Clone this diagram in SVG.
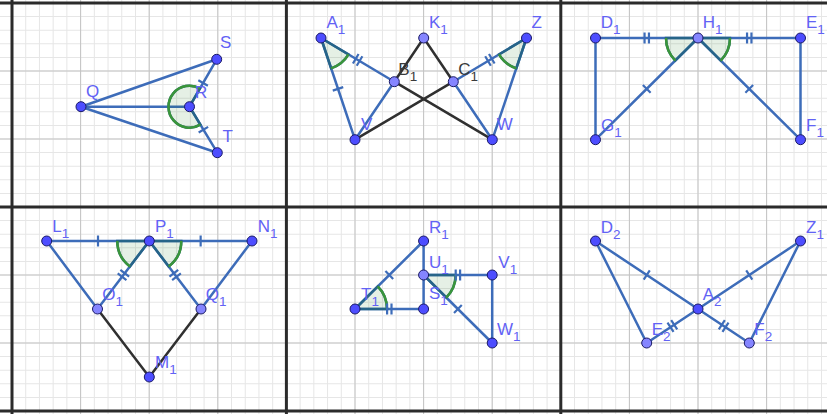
<svg xmlns="http://www.w3.org/2000/svg" xmlns:xlink="http://www.w3.org/1999/xlink" width="827" height="414" viewBox="0 0 827 414">
<style>
.seg{stroke:#3d6cb9;stroke-width:2.5;stroke-linecap:round;fill:none}
.blk{stroke:#303030;stroke-width:2.5;stroke-linecap:round;fill:none}
.tk{stroke:#3d6cb9;stroke-width:2.2;fill:none}
.sec{fill:rgba(0,110,0,0.1);stroke:#266488;stroke-width:2.5}
.arc{fill:none;stroke:#3a953a;stroke-width:2.5}
.pt{fill:#4d4dff;stroke:#1a1a66;stroke-width:1}
.pl{fill:#8585ff;stroke:#1a1a66;stroke-width:1}
text{font-family:"Liberation Sans",Arial,sans-serif;font-size:17px;fill:#6262f5}
text.dk{fill:#3a3a3a}
tspan{font-size:13.5px}
</style>
<defs>
<line id="t1" x1="0" y1="-5.5" x2="0" y2="5.5"/>
<path id="t2" d="M-2.2,-5.5V5.5M2.2,-5.5V5.5"/>
</defs>
<rect width="827" height="414" fill="#ffffff"/>
<g id="grid">
<line x1="11.5" y1="207" x2="827" y2="207" stroke="#e6e6e6" stroke-width="414" stroke-dasharray="1 12.72"/>
<line x1="413.5" y1="2.5" x2="413.5" y2="414" stroke="#e6e6e6" stroke-width="827" stroke-dasharray="1 12.6"/>
<line x1="11.5" y1="207" x2="827" y2="207" stroke="#c4c4c4" stroke-width="414" stroke-dasharray="1 67.6"/>
<line x1="413.5" y1="2.5" x2="413.5" y2="414" stroke="#c4c4c4" stroke-width="827" stroke-dasharray="1 67"/>
<g stroke="#2b2b2b" stroke-width="3">
<line x1="12" y1="0" x2="12" y2="414"/>
<line x1="286.4" y1="0" x2="286.4" y2="414"/>
<line x1="560.8" y1="0" x2="560.8" y2="414"/>
<line x1="0" y1="3" x2="827" y2="3"/>
<line x1="0" y1="207" x2="827" y2="207"/>
<line x1="0" y1="411" x2="827" y2="411"/>
</g>
</g>
<g id="connectors">
<line class="seg" x1="81" y1="106.7" x2="216.7" y2="59.3"/>
<line class="seg" x1="81" y1="106.7" x2="217.3" y2="152.7"/>
<line class="seg" x1="81" y1="106.7" x2="189.5" y2="106.7"/>
<line class="seg" x1="189.5" y1="106.7" x2="216.7" y2="59.3"/>
<line class="seg" x1="189.5" y1="106.7" x2="217.3" y2="152.7"/>
<line class="blk" x1="423.7" y1="38" x2="394.3" y2="81.7"/>
<line class="blk" x1="423.7" y1="38" x2="453.3" y2="81.7"/>
<line class="blk" x1="394.3" y1="81.7" x2="492.3" y2="139.7"/>
<line class="blk" x1="453.3" y1="81.7" x2="355" y2="139.7"/>
<line class="seg" x1="321" y1="38" x2="394.3" y2="81.7"/>
<line class="seg" x1="321" y1="38" x2="355" y2="139.7"/>
<line class="seg" x1="394.3" y1="81.7" x2="355" y2="139.7"/>
<line class="seg" x1="526.5" y1="38" x2="453.3" y2="81.7"/>
<line class="seg" x1="526.5" y1="38" x2="492.3" y2="139.7"/>
<line class="seg" x1="453.3" y1="81.7" x2="492.3" y2="139.7"/>
<line class="seg" x1="595.5" y1="38" x2="800.5" y2="38"/>
<line class="seg" x1="595.5" y1="38" x2="595.5" y2="139.7"/>
<line class="seg" x1="800.5" y1="38" x2="800.5" y2="139.7"/>
<line class="seg" x1="698" y1="38" x2="595.5" y2="139.7"/>
<line class="seg" x1="698" y1="38" x2="800.5" y2="139.7"/>
<line class="seg" x1="46.7" y1="241" x2="252" y2="241"/>
<line class="seg" x1="46.7" y1="241" x2="97.5" y2="309"/>
<line class="seg" x1="149.3" y1="241" x2="97.5" y2="309"/>
<line class="seg" x1="149.3" y1="241" x2="201" y2="309"/>
<line class="seg" x1="252" y1="241" x2="201" y2="309"/>
<line class="blk" x1="97.5" y1="309" x2="149.3" y2="377"/>
<line class="blk" x1="201" y1="309" x2="149.3" y2="377"/>
<line class="seg" x1="355" y1="309" x2="423.6" y2="241"/>
<line class="seg" x1="423.6" y1="241" x2="423.6" y2="309"/>
<line class="seg" x1="355" y1="309" x2="423.6" y2="309"/>
<line class="seg" x1="423.6" y1="275" x2="492.2" y2="275"/>
<line class="seg" x1="492.2" y1="275" x2="492.2" y2="343"/>
<line class="seg" x1="423.6" y1="275" x2="492.2" y2="343"/>
<line class="seg" x1="595.5" y1="241" x2="698" y2="309"/>
<line class="seg" x1="800.5" y1="241" x2="698" y2="309"/>
<line class="seg" x1="595.5" y1="241" x2="646.7" y2="343"/>
<line class="seg" x1="646.7" y1="343" x2="698" y2="309"/>
<line class="seg" x1="698" y1="309" x2="749.3" y2="343"/>
<line class="seg" x1="749.3" y1="343" x2="800.5" y2="241"/>
</g>
<g id="angles">
<path class="sec" d="M189.5,106.7 L200.35,124.68 A21,21 0 1 1 199.95,88.48 Z"/>
<path class="arc" d="M200.35,124.68 A21,21 0 1 1 199.95,88.48"/>
<path class="sec" d="M321,38 L348.49,54.38 A32,32 0 0 1 331.14,68.34 Z"/>
<path class="arc" d="M348.49,54.38 A32,32 0 0 1 331.14,68.34"/>
<path class="sec" d="M526.5,38 L516.29,68.34 A32,32 0 0 1 499.01,54.38 Z"/>
<path class="arc" d="M516.29,68.34 A32,32 0 0 1 499.01,54.38"/>
<path class="sec" d="M698,38 L675.29,60.55 A32,32 0 0 1 666,38 Z"/>
<path class="arc" d="M675.29,60.55 A32,32 0 0 1 666,38"/>
<path class="sec" d="M698,38 L730,38 A32,32 0 0 1 720.71,60.55 Z"/>
<path class="arc" d="M730,38 A32,32 0 0 1 720.71,60.55"/>
<path class="sec" d="M149.3,241 L129.91,266.46 A32,32 0 0 1 117.3,241 Z"/>
<path class="arc" d="M129.91,266.46 A32,32 0 0 1 117.3,241"/>
<path class="sec" d="M149.3,241 L181.3,241 A32,32 0 0 1 168.69,266.46 Z"/>
<path class="arc" d="M181.3,241 A32,32 0 0 1 168.69,266.46"/>
<path class="sec" d="M355,309 L377.73,286.47 A32,32 0 0 1 387,309 Z"/>
<path class="arc" d="M377.73,286.47 A32,32 0 0 1 387,309"/>
<path class="sec" d="M423.6,275 L455.6,275 A32,32 0 0 1 446.33,297.53 Z"/>
<path class="arc" d="M455.6,275 A32,32 0 0 1 446.33,297.53"/>
</g>
<g id="ticks" class="tk">
<use xlink:href="#t1" transform="translate(203.1,83) rotate(-60.15)"/>
<use xlink:href="#t1" transform="translate(203.4,129.7) rotate(58.9)"/>
<use xlink:href="#t2" transform="translate(357.65,59.85) rotate(30.8)"/>
<use xlink:href="#t2" transform="translate(489.9,59.85) rotate(-30.8)"/>
<use xlink:href="#t1" transform="translate(338,88.85) rotate(71.5)"/>
<use xlink:href="#t2" transform="translate(646.75,38)"/>
<use xlink:href="#t2" transform="translate(749.25,38)"/>
<use xlink:href="#t1" transform="translate(646.75,88.85) rotate(135.2)"/>
<use xlink:href="#t1" transform="translate(749.25,88.85) rotate(44.8)"/>
<use xlink:href="#t1" transform="translate(98,241)"/>
<use xlink:href="#t1" transform="translate(200.65,241)"/>
<use xlink:href="#t2" transform="translate(123.4,275) rotate(127.3)"/>
<use xlink:href="#t2" transform="translate(175.15,275) rotate(52.7)"/>
<use xlink:href="#t1" transform="translate(389.3,275) rotate(-44.75)"/>
<use xlink:href="#t2" transform="translate(389.3,309)"/>
<use xlink:href="#t2" transform="translate(457.9,275)"/>
<use xlink:href="#t1" transform="translate(457.9,309) rotate(44.75)"/>
<use xlink:href="#t1" transform="translate(646.75,275) rotate(33.56)"/>
<use xlink:href="#t1" transform="translate(749.25,275) rotate(-33.56)"/>
<use xlink:href="#t2" transform="translate(672.35,326) rotate(-33.5)"/>
<use xlink:href="#t2" transform="translate(723.65,326) rotate(33.5)"/>
</g>
<g id="Q"><circle class="pt" cx="81" cy="106.7" r="5"/><text x="86" y="96.5">Q</text></g>
<g id="R"><circle class="pt" cx="189.5" cy="106.7" r="5"/><text x="195" y="98">R</text></g>
<g id="S"><circle class="pt" cx="216.7" cy="59.3" r="5"/><text x="220" y="47.5">S</text></g>
<g id="T"><circle class="pt" cx="217.3" cy="152.7" r="5"/><text x="222.5" y="141.5">T</text></g>
<g id="A1"><circle class="pt" cx="321" cy="38" r="5"/><text x="326.5" y="28.3">A<tspan dy="6">1</tspan></text></g>
<g id="K1"><circle class="pl" cx="423.7" cy="38" r="5"/><text x="429" y="28.3">K<tspan dy="6">1</tspan></text></g>
<g id="Z"><circle class="pt" cx="526.5" cy="38" r="5"/><text x="531.5" y="28.3">Z</text></g>
<g id="B1"><circle class="pl" cx="394.3" cy="81.7" r="5"/><text class="dk" x="398.3" y="75">B<tspan dy="6">1</tspan></text></g>
<g id="C1"><circle class="pl" cx="453.3" cy="81.7" r="5"/><text class="dk" x="458.3" y="75">C<tspan dy="6">1</tspan></text></g>
<g id="V"><circle class="pt" cx="355" cy="139.7" r="5"/><text x="361" y="130">V</text></g>
<g id="W"><circle class="pt" cx="492.3" cy="139.7" r="5"/><text x="496.7" y="130">W</text></g>
<g id="D1"><circle class="pt" cx="595.5" cy="38" r="5"/><text x="600.7" y="28.3">D<tspan dy="6">1</tspan></text></g>
<g id="H1"><circle class="pl" cx="698" cy="38" r="5"/><text x="702.7" y="28.3">H<tspan dy="6">1</tspan></text></g>
<g id="E1"><circle class="pt" cx="800.5" cy="38" r="5"/><text x="806" y="28.3">E<tspan dy="6">1</tspan></text></g>
<g id="G1"><circle class="pt" cx="595.5" cy="139.7" r="5"/><text x="601" y="130.7">G<tspan dy="6">1</tspan></text></g>
<g id="F1"><circle class="pt" cx="800.5" cy="139.7" r="5"/><text x="806" y="130.7">F<tspan dy="6">1</tspan></text></g>
<g id="L1"><circle class="pt" cx="46.7" cy="241" r="5"/><text x="52.3" y="231.7">L<tspan dy="6">1</tspan></text></g>
<g id="P1"><circle class="pt" cx="149.3" cy="241" r="5"/><text x="155" y="231.7">P<tspan dy="6">1</tspan></text></g>
<g id="N1"><circle class="pt" cx="252" cy="241" r="5"/><text x="257.7" y="231.7">N<tspan dy="6">1</tspan></text></g>
<g id="O1"><circle class="pl" cx="97.5" cy="309" r="5"/><text x="102.3" y="299.7">O<tspan dy="6">1</tspan></text></g>
<g id="Q1"><circle class="pl" cx="201" cy="309" r="5"/><text x="205.7" y="299.7">Q<tspan dy="6">1</tspan></text></g>
<g id="M1"><circle class="pt" cx="149.3" cy="377" r="5"/><text x="155" y="368.3">M<tspan dy="6">1</tspan></text></g>
<g id="R1"><circle class="pt" cx="423.6" cy="241" r="5"/><text x="429" y="233.3">R<tspan dy="6">1</tspan></text></g>
<g id="U1"><circle class="pl" cx="423.6" cy="275" r="5"/><text x="429" y="268.3">U<tspan dy="6">1</tspan></text></g>
<g id="V1"><circle class="pt" cx="492.2" cy="275" r="5"/><text x="498.3" y="268.3">V<tspan dy="6">1</tspan></text></g>
<g id="T1"><circle class="pt" cx="355" cy="309" r="5"/><text x="361" y="300">T<tspan dy="6">1</tspan></text></g>
<g id="S1"><circle class="pt" cx="423.6" cy="309" r="5"/><text x="429" y="299">S<tspan dy="6">1</tspan></text></g>
<g id="W1"><circle class="pt" cx="492.2" cy="343" r="5"/><text x="497" y="335">W<tspan dy="6">1</tspan></text></g>
<g id="D2"><circle class="pt" cx="595.5" cy="241" r="5"/><text x="600.7" y="233.3">D<tspan dy="6">2</tspan></text></g>
<g id="Z1"><circle class="pt" cx="800.5" cy="241" r="5"/><text x="806" y="233.3">Z<tspan dy="6">1</tspan></text></g>
<g id="A2"><circle class="pt" cx="698" cy="309" r="5"/><text x="702.7" y="300">A<tspan dy="6">2</tspan></text></g>
<g id="E2"><circle class="pl" cx="646.7" cy="343" r="5"/><text x="651.7" y="335">E<tspan dy="6">2</tspan></text></g>
<g id="F2"><circle class="pl" cx="749.3" cy="343" r="5"/><text x="754.3" y="335">F<tspan dy="6">2</tspan></text></g>
</svg>
